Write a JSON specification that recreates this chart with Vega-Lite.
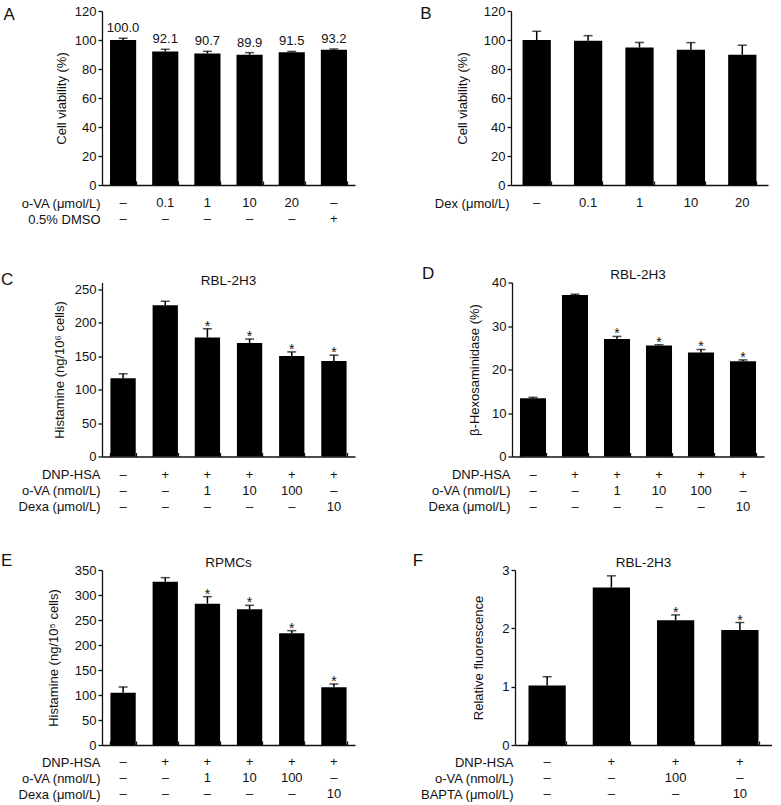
{
  "$schema": "https://vega.github.io/schema/vega-lite/v6.json",
  "padding": {"left": 1, "top": 5, "right": 0, "bottom": 0},
  "background": "white",
  "config": {
    "font": "Liberation Sans",
    "view": {"stroke": null},
    "axis": {"grid": false, "domainColor": "#111", "domainWidth": 1.3, "tickColor": "#111", "tickWidth": 1.3, "labelFont": "Liberation Sans", "labelFontSize": 13, "labelColor": "#111", "titleFont": "Liberation Sans", "titleFontSize": 13, "titleFontWeight": "normal", "titleColor": "#111"},
    "axisY": {"tickSize": 4, "labelPadding": 2},
    "axisX": {"labels": false, "tickBand": "extent", "tickSize": -4, "title": null},
    "title": {"font": "Liberation Sans", "fontWeight": "normal", "color": "#111"}
  },
  "datasets": {
    "A": [
      {"g": "1", "v": 100.0, "hi": 101.2, "lab": "100.0"},
      {"g": "2", "v": 92.1, "hi": 93.6, "lab": "92.1"},
      {"g": "3", "v": 90.7, "hi": 92.2, "lab": "90.7"},
      {"g": "4", "v": 89.9, "hi": 91.3, "lab": "89.9"},
      {"g": "5", "v": 91.5, "hi": 92.1, "lab": "91.5"},
      {"g": "6", "v": 93.2, "hi": 93.8, "lab": "93.2"}
    ],
    "A_tab": [
      {"g": "1", "r": "o-VA (μmol/L)", "t": "–"}, {"g": "2", "r": "o-VA (μmol/L)", "t": "0.1"}, {"g": "3", "r": "o-VA (μmol/L)", "t": "1"},
      {"g": "4", "r": "o-VA (μmol/L)", "t": "10"}, {"g": "5", "r": "o-VA (μmol/L)", "t": "20"}, {"g": "6", "r": "o-VA (μmol/L)", "t": "–"},
      {"g": "1", "r": "0.5% DMSO", "t": "–"}, {"g": "2", "r": "0.5% DMSO", "t": "–"}, {"g": "3", "r": "0.5% DMSO", "t": "–"},
      {"g": "4", "r": "0.5% DMSO", "t": "–"}, {"g": "5", "r": "0.5% DMSO", "t": "–"}, {"g": "6", "r": "0.5% DMSO", "t": "+"}
    ],
    "B": [
      {"g": "1", "v": 100.0, "hi": 106.0},
      {"g": "2", "v": 99.5, "hi": 103.0},
      {"g": "3", "v": 94.8, "hi": 98.3},
      {"g": "4", "v": 93.2, "hi": 98.2},
      {"g": "5", "v": 89.8, "hi": 96.4}
    ],
    "B_tab": [
      {"g": "1", "r": "Dex (μmol/L)", "t": "–"}, {"g": "2", "r": "Dex (μmol/L)", "t": "0.1"}, {"g": "3", "r": "Dex (μmol/L)", "t": "1"},
      {"g": "4", "r": "Dex (μmol/L)", "t": "10"}, {"g": "5", "r": "Dex (μmol/L)", "t": "20"}
    ],
    "C": [
      {"g": "1", "v": 116.8, "hi": 123.6, "s": ""},
      {"g": "2", "v": 226.0, "hi": 232.0, "s": ""},
      {"g": "3", "v": 177.9, "hi": 190.9, "s": "*"},
      {"g": "4", "v": 169.7, "hi": 175.5, "s": "*"},
      {"g": "5", "v": 150.0, "hi": 156.3, "s": "*"},
      {"g": "6", "v": 142.8, "hi": 151.4, "s": "*"}
    ],
    "D": [
      {"g": "1", "v": 13.4, "hi": 13.6, "s": ""},
      {"g": "2", "v": 37.1, "hi": 37.3, "s": ""},
      {"g": "3", "v": 27.0, "hi": 27.6, "s": "*"},
      {"g": "4", "v": 25.5, "hi": 25.7, "s": "*"},
      {"g": "5", "v": 23.9, "hi": 24.6, "s": "*"},
      {"g": "6", "v": 21.9, "hi": 22.2, "s": "*"}
    ],
    "E": [
      {"g": "1", "v": 104.7, "hi": 116.0, "s": ""},
      {"g": "2", "v": 326.7, "hi": 334.7, "s": ""},
      {"g": "3", "v": 282.7, "hi": 296.7, "s": "*"},
      {"g": "4", "v": 271.3, "hi": 279.3, "s": "*"},
      {"g": "5", "v": 223.3, "hi": 228.7, "s": "*"},
      {"g": "6", "v": 115.3, "hi": 122.0, "s": "*"}
    ],
    "F": [
      {"g": "1", "v": 1.02, "hi": 1.17, "s": ""},
      {"g": "2", "v": 2.70, "hi": 2.90, "s": ""},
      {"g": "3", "v": 2.14, "hi": 2.23, "s": "*"},
      {"g": "4", "v": 1.97, "hi": 2.10, "s": "*"}
    ],
    "CDE_tab": [
      {"g": "1", "r": "DNP-HSA", "t": "–"}, {"g": "2", "r": "DNP-HSA", "t": "+"}, {"g": "3", "r": "DNP-HSA", "t": "+"},
      {"g": "4", "r": "DNP-HSA", "t": "+"}, {"g": "5", "r": "DNP-HSA", "t": "+"}, {"g": "6", "r": "DNP-HSA", "t": "+"},
      {"g": "1", "r": "o-VA (nmol/L)", "t": "–"}, {"g": "2", "r": "o-VA (nmol/L)", "t": "–"}, {"g": "3", "r": "o-VA (nmol/L)", "t": "1"},
      {"g": "4", "r": "o-VA (nmol/L)", "t": "10"}, {"g": "5", "r": "o-VA (nmol/L)", "t": "100"}, {"g": "6", "r": "o-VA (nmol/L)", "t": "–"},
      {"g": "1", "r": "Dexa (μmol/L)", "t": "–"}, {"g": "2", "r": "Dexa (μmol/L)", "t": "–"}, {"g": "3", "r": "Dexa (μmol/L)", "t": "–"},
      {"g": "4", "r": "Dexa (μmol/L)", "t": "–"}, {"g": "5", "r": "Dexa (μmol/L)", "t": "–"}, {"g": "6", "r": "Dexa (μmol/L)", "t": "10"}
    ],
    "F_tab": [
      {"g": "1", "r": "DNP-HSA", "t": "–"}, {"g": "2", "r": "DNP-HSA", "t": "+"}, {"g": "3", "r": "DNP-HSA", "t": "+"}, {"g": "4", "r": "DNP-HSA", "t": "+"},
      {"g": "1", "r": "o-VA (nmol/L)", "t": "–"}, {"g": "2", "r": "o-VA (nmol/L)", "t": "–"}, {"g": "3", "r": "o-VA (nmol/L)", "t": "100"}, {"g": "4", "r": "o-VA (nmol/L)", "t": "–"},
      {"g": "1", "r": "BAPTA (μmol/L)", "t": "–"}, {"g": "2", "r": "BAPTA (μmol/L)", "t": "–"}, {"g": "3", "r": "BAPTA (μmol/L)", "t": "–"}, {"g": "4", "r": "BAPTA (μmol/L)", "t": "10"}
    ]
  },
  "vconcat": [
    {
      "hconcat": [
        {
          "title": {"text": "A", "anchor": "start", "frame": "bounds", "offset": -18.5, "dx": -17, "fontSize": 17},
          "bounds": "flush", "spacing": 10,
          "vconcat": [
            {
              "width": 253, "height": 174,
              "data": {"name": "A"},
              "encoding": {"x": {"field": "g", "type": "ordinal", "scale": {"paddingInner": 0.38, "paddingOuter": 0.19}}},
              "layer": [
                {"mark": {"type": "bar", "color": "#000"}, "encoding": {"y": {"field": "v", "type": "quantitative", "scale": {"domain": [0, 120]}, "axis": {"title": "Cell viability (%)", "values": [0, 20, 40, 60, 80, 100, 120], "labelOverlap": false, "titlePadding": 6}}}},
                {"mark": {"type": "rule", "color": "#000", "strokeWidth": 1.5}, "encoding": {"y": {"field": "v", "type": "quantitative", "axis": {"title": "Cell viability (%)", "values": [0, 20, 40, 60, 80, 100, 120], "labelOverlap": false, "titlePadding": 6}}, "y2": {"field": "hi"}}},
                {"mark": {"type": "tick", "color": "#000", "thickness": 1.5, "size": 9}, "encoding": {"y": {"field": "hi", "type": "quantitative", "axis": {"title": "Cell viability (%)", "values": [0, 20, 40, 60, 80, 100, 120], "labelOverlap": false, "titlePadding": 6}}}},
                {"mark": {"type": "text", "fontSize": 13, "baseline": "bottom", "dy": -3, "color": "#111"}, "encoding": {"y": {"field": "hi", "type": "quantitative", "axis": {"title": "Cell viability (%)", "values": [0, 20, 40, 60, 80, 100, 120], "labelOverlap": false, "titlePadding": 6}}, "text": {"field": "lab"}}}
              ]
            },
            {
              "width": 253, "height": 32,
              "data": {"name": "A_tab"},
              "mark": {"type": "text", "fontSize": 13, "color": "#111"},
              "encoding": {
                "x": {"field": "g", "type": "ordinal", "scale": {"paddingInner": 0.38, "paddingOuter": 0.19}, "axis": null},
                "y": {"field": "r", "type": "ordinal", "scale": {"domain": ["o-VA (μmol/L)", "0.5% DMSO"]}, "axis": {"title": null, "domain": false, "ticks": false, "labelPadding": 2}},
                "text": {"field": "t"}
              }
            }
          ]
        },
        {
          "title": {"text": "B", "anchor": "start", "frame": "bounds", "offset": -18, "dx": -14, "fontSize": 17},
          "bounds": "flush", "spacing": 10,
          "vconcat": [
            {
              "width": 257, "height": 174,
              "data": {"name": "B"},
              "encoding": {"x": {"field": "g", "type": "ordinal", "scale": {"paddingInner": 0.45, "paddingOuter": 0.225}}},
              "layer": [
                {"mark": {"type": "bar", "color": "#000"}, "encoding": {"y": {"field": "v", "type": "quantitative", "scale": {"domain": [0, 120]}, "axis": {"title": "Cell viability (%)", "values": [0, 20, 40, 60, 80, 100, 120], "labelOverlap": false, "titlePadding": 14}}}},
                {"mark": {"type": "rule", "color": "#000", "strokeWidth": 1.5}, "encoding": {"y": {"field": "v", "type": "quantitative", "axis": {"title": "Cell viability (%)", "values": [0, 20, 40, 60, 80, 100, 120], "labelOverlap": false, "titlePadding": 14}}, "y2": {"field": "hi"}}},
                {"mark": {"type": "tick", "color": "#000", "thickness": 1.5, "size": 9}, "encoding": {"y": {"field": "hi", "type": "quantitative", "axis": {"title": "Cell viability (%)", "values": [0, 20, 40, 60, 80, 100, 120], "labelOverlap": false, "titlePadding": 14}}}}
              ]
            },
            {
              "width": 257, "height": 16,
              "data": {"name": "B_tab"},
              "mark": {"type": "text", "fontSize": 13, "color": "#111"},
              "encoding": {
                "x": {"field": "g", "type": "ordinal", "scale": {"paddingInner": 0.45, "paddingOuter": 0.225}, "axis": null},
                "y": {"field": "r", "type": "ordinal", "axis": {"title": null, "domain": false, "ticks": false, "labelPadding": 2}},
                "text": {"field": "t"}
              }
            }
          ]
        }
      ],
      "spacing": 65
    },
    {
      "hconcat": [
        {
          "title": {"text": "C", "anchor": "start", "frame": "bounds", "offset": -15.5, "dx": -17, "fontSize": 17},
          "bounds": "flush", "spacing": 10,
          "vconcat": [
            {
              "width": 253, "height": 174,
              "title": {"text": "RBL-2H3", "frame": "group", "anchor": "middle", "offset": -4.5, "fontSize": 13.5},
              "data": {"name": "C"},
              "encoding": {"x": {"field": "g", "type": "ordinal", "scale": {"paddingInner": 0.4, "paddingOuter": 0.2}}},
              "layer": [
                {"mark": {"type": "bar", "color": "#000"}, "encoding": {"y": {"field": "v", "type": "quantitative", "scale": {"domain": [0, 250]}, "axis": {"title": "Histamine (ng/10⁶ cells)", "values": [0, 50, 100, 150, 200, 250], "labelOverlap": false, "titlePadding": 8}}}},
                {"mark": {"type": "rule", "color": "#000", "strokeWidth": 1.5}, "encoding": {"y": {"field": "v", "type": "quantitative", "axis": {"title": "Histamine (ng/10⁶ cells)", "values": [0, 50, 100, 150, 200, 250], "labelOverlap": false, "titlePadding": 8}}, "y2": {"field": "hi"}}},
                {"mark": {"type": "tick", "color": "#000", "thickness": 1.5, "size": 9}, "encoding": {"y": {"field": "hi", "type": "quantitative", "axis": {"title": "Histamine (ng/10⁶ cells)", "values": [0, 50, 100, 150, 200, 250], "labelOverlap": false, "titlePadding": 8}}}},
                {"mark": {"type": "text", "fontSize": 14, "baseline": "alphabetic", "dy": 2, "color": "#111"}, "encoding": {"y": {"field": "hi", "type": "quantitative", "axis": {"title": "Histamine (ng/10⁶ cells)", "values": [0, 50, 100, 150, 200, 250], "labelOverlap": false, "titlePadding": 8}}, "text": {"field": "s"}}}
              ]
            },
            {
              "width": 253, "height": 48,
              "data": {"name": "CDE_tab"},
              "mark": {"type": "text", "fontSize": 13, "color": "#111"},
              "encoding": {
                "x": {"field": "g", "type": "ordinal", "scale": {"paddingInner": 0.4, "paddingOuter": 0.2}, "axis": null},
                "y": {"field": "r", "type": "ordinal", "scale": {"domain": ["DNP-HSA", "o-VA (nmol/L)", "Dexa (μmol/L)"]}, "axis": {"title": null, "domain": false, "ticks": false, "labelPadding": 2}},
                "text": {"field": "t"}
              }
            }
          ]
        },
        {
          "title": {"text": "D", "anchor": "start", "frame": "bounds", "offset": -15.5, "dx": -6, "fontSize": 17},
          "bounds": "flush", "spacing": 10,
          "vconcat": [
            {
              "width": 252, "height": 174,
              "title": {"text": "RBL-2H3", "frame": "group", "anchor": "middle", "offset": -4.5, "fontSize": 13.5},
              "data": {"name": "D"},
              "encoding": {"x": {"field": "g", "type": "ordinal", "scale": {"paddingInner": 0.38, "paddingOuter": 0.19}}},
              "layer": [
                {"mark": {"type": "bar", "color": "#000"}, "encoding": {"y": {"field": "v", "type": "quantitative", "scale": {"domain": [0, 40]}, "axis": {"title": "β-Hexosaminidase (%)", "values": [0, 10, 20, 30, 40], "labelOverlap": false, "titlePadding": 10}}}},
                {"mark": {"type": "rule", "color": "#000", "strokeWidth": 1.5}, "encoding": {"y": {"field": "v", "type": "quantitative", "axis": {"title": "β-Hexosaminidase (%)", "values": [0, 10, 20, 30, 40], "labelOverlap": false, "titlePadding": 10}}, "y2": {"field": "hi"}}},
                {"mark": {"type": "tick", "color": "#000", "thickness": 1.5, "size": 9}, "encoding": {"y": {"field": "hi", "type": "quantitative", "axis": {"title": "β-Hexosaminidase (%)", "values": [0, 10, 20, 30, 40], "labelOverlap": false, "titlePadding": 10}}}},
                {"mark": {"type": "text", "fontSize": 14, "baseline": "alphabetic", "dy": 2, "color": "#111"}, "encoding": {"y": {"field": "hi", "type": "quantitative", "axis": {"title": "β-Hexosaminidase (%)", "values": [0, 10, 20, 30, 40], "labelOverlap": false, "titlePadding": 10}}, "text": {"field": "s"}}}
              ]
            },
            {
              "width": 252, "height": 48,
              "data": {"name": "CDE_tab"},
              "mark": {"type": "text", "fontSize": 13, "color": "#111"},
              "encoding": {
                "x": {"field": "g", "type": "ordinal", "scale": {"paddingInner": 0.38, "paddingOuter": 0.19}, "axis": null},
                "y": {"field": "r", "type": "ordinal", "scale": {"domain": ["DNP-HSA", "o-VA (nmol/L)", "Dexa (μmol/L)"]}, "axis": {"title": null, "domain": false, "ticks": false, "labelPadding": 2}},
                "text": {"field": "t"}
              }
            }
          ]
        }
      ],
      "spacing": 67
    },
    {
      "hconcat": [
        {
          "title": {"text": "E", "anchor": "start", "frame": "bounds", "offset": -14, "dx": -17, "fontSize": 17},
          "bounds": "flush", "spacing": 9,
          "vconcat": [
            {
              "width": 253, "height": 175,
              "title": {"text": "RPMCs", "frame": "group", "anchor": "middle", "offset": -5.5, "fontSize": 13.5},
              "data": {"name": "E"},
              "encoding": {"x": {"field": "g", "type": "ordinal", "scale": {"paddingInner": 0.4, "paddingOuter": 0.2}}},
              "layer": [
                {"mark": {"type": "bar", "color": "#000"}, "encoding": {"y": {"field": "v", "type": "quantitative", "scale": {"domain": [0, 350]}, "axis": {"title": "Histamine (ng/10⁵ cells)", "values": [0, 50, 100, 150, 200, 250, 300, 350], "labelOverlap": false, "titlePadding": 14}}}},
                {"mark": {"type": "rule", "color": "#000", "strokeWidth": 1.5}, "encoding": {"y": {"field": "v", "type": "quantitative", "axis": {"title": "Histamine (ng/10⁵ cells)", "values": [0, 50, 100, 150, 200, 250, 300, 350], "labelOverlap": false, "titlePadding": 14}}, "y2": {"field": "hi"}}},
                {"mark": {"type": "tick", "color": "#000", "thickness": 1.5, "size": 9}, "encoding": {"y": {"field": "hi", "type": "quantitative", "axis": {"title": "Histamine (ng/10⁵ cells)", "values": [0, 50, 100, 150, 200, 250, 300, 350], "labelOverlap": false, "titlePadding": 14}}}},
                {"mark": {"type": "text", "fontSize": 14, "baseline": "alphabetic", "dy": 2, "color": "#111"}, "encoding": {"y": {"field": "hi", "type": "quantitative", "axis": {"title": "Histamine (ng/10⁵ cells)", "values": [0, 50, 100, 150, 200, 250, 300, 350], "labelOverlap": false, "titlePadding": 14}}, "text": {"field": "s"}}}
              ]
            },
            {
              "width": 253, "height": 48,
              "data": {"name": "CDE_tab"},
              "mark": {"type": "text", "fontSize": 13, "color": "#111"},
              "encoding": {
                "x": {"field": "g", "type": "ordinal", "scale": {"paddingInner": 0.4, "paddingOuter": 0.2}, "axis": null},
                "y": {"field": "r", "type": "ordinal", "scale": {"domain": ["DNP-HSA", "o-VA (nmol/L)", "Dexa (μmol/L)"]}, "axis": {"title": null, "domain": false, "ticks": false, "labelPadding": 2}},
                "text": {"field": "t"}
              }
            }
          ]
        },
        {
          "title": {"text": "F", "anchor": "start", "frame": "bounds", "offset": -14, "dx": -7, "fontSize": 17},
          "bounds": "flush", "spacing": 9,
          "vconcat": [
            {
              "width": 257, "height": 175,
              "title": {"text": "RBL-2H3", "frame": "group", "anchor": "middle", "offset": -5.5, "fontSize": 13.5},
              "data": {"name": "F"},
              "encoding": {"x": {"field": "g", "type": "ordinal", "scale": {"paddingInner": 0.42, "paddingOuter": 0.21}}},
              "layer": [
                {"mark": {"type": "bar", "color": "#000"}, "encoding": {"y": {"field": "v", "type": "quantitative", "scale": {"domain": [0, 3]}, "axis": {"title": "Relative fluorescence", "values": [0, 1, 2, 3], "format": "d", "labelOverlap": false, "titlePadding": 16}}}},
                {"mark": {"type": "rule", "color": "#000", "strokeWidth": 1.5}, "encoding": {"y": {"field": "v", "type": "quantitative", "axis": {"title": "Relative fluorescence", "values": [0, 1, 2, 3], "format": "d", "labelOverlap": false, "titlePadding": 16}}, "y2": {"field": "hi"}}},
                {"mark": {"type": "tick", "color": "#000", "thickness": 1.5, "size": 9}, "encoding": {"y": {"field": "hi", "type": "quantitative", "axis": {"title": "Relative fluorescence", "values": [0, 1, 2, 3], "format": "d", "labelOverlap": false, "titlePadding": 16}}}},
                {"mark": {"type": "text", "fontSize": 14, "baseline": "alphabetic", "dy": 2, "color": "#111"}, "encoding": {"y": {"field": "hi", "type": "quantitative", "axis": {"title": "Relative fluorescence", "values": [0, 1, 2, 3], "format": "d", "labelOverlap": false, "titlePadding": 16}}, "text": {"field": "s"}}}
              ]
            },
            {
              "width": 257, "height": 48,
              "data": {"name": "F_tab"},
              "mark": {"type": "text", "fontSize": 13, "color": "#111"},
              "encoding": {
                "x": {"field": "g", "type": "ordinal", "scale": {"paddingInner": 0.42, "paddingOuter": 0.21}, "axis": null},
                "y": {"field": "r", "type": "ordinal", "scale": {"domain": ["DNP-HSA", "o-VA (nmol/L)", "BAPTA (μmol/L)"]}, "axis": {"title": null, "domain": false, "ticks": false, "labelPadding": 2}},
                "text": {"field": "t"}
              }
            }
          ]
        }
      ],
      "spacing": 57
    }
  ],
  "spacing": 37.5
}
